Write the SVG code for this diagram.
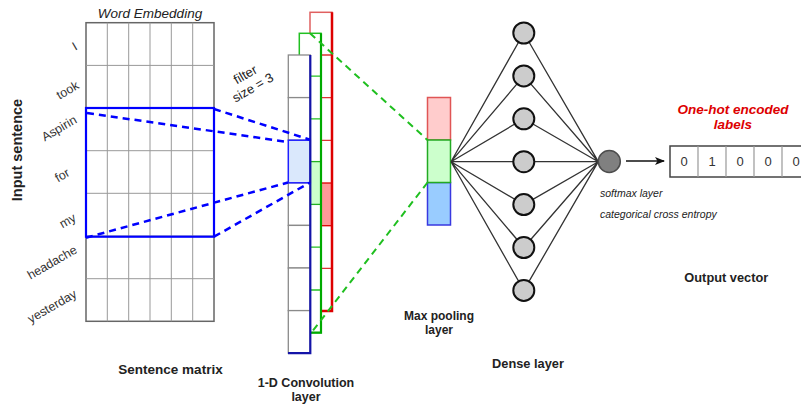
<svg xmlns="http://www.w3.org/2000/svg" width="801" height="406" viewBox="0 0 801 406">
<defs>
<style>
text{font-family:"Liberation Sans",Arial,sans-serif;fill:#222}
.word{font-size:12.5px;fill:#333;text-anchor:middle}
.lbl{font-size:12.5px;font-weight:bold;text-anchor:middle}
.gi{stroke:#999;stroke-width:1;fill:none}
.bd{stroke:#0000ff;stroke-width:2.5;stroke-dasharray:7 5;fill:none}
.gd{stroke:#1fbf1f;stroke-width:2;stroke-dasharray:7 5;fill:none}
.dl{stroke:#333;stroke-width:1.3;fill:none}
.nd{fill:#cccccc;stroke:#111;stroke-width:2}
.gcell{fill:#fff;stroke:#8a8a8a;stroke-width:1.3}
.ov{font-size:13px;fill:#333;text-anchor:middle}
</style>
<marker id="arr" markerWidth="10" markerHeight="8" refX="9" refY="4" orient="auto" markerUnits="userSpaceOnUse">
<path d="M0,0 L10,4 L0,8 L2.5,4 Z" fill="#111"/>
</marker>
</defs>
<rect width="801" height="406" fill="#fff"/>

<g id="sentence-matrix">
<rect x="86" y="22.7" width="128" height="298.6" fill="#fff" stroke="#666" stroke-width="1.5"/>
<path class="gi" d="M107.3,22.7V321.3M128.7,22.7V321.3M150,22.7V321.3M171.3,22.7V321.3M192.7,22.7V321.3M86,65.4H214M86,108H214M86,150.7H214M86,193.3H214M86,236H214M86,278.7H214"/>
<rect x="86" y="108" width="128" height="128.7" fill="none" stroke="#0000ff" stroke-width="2.2"/>
<text x="150" y="18" font-size="13.5" font-style="italic" text-anchor="middle" fill="#333">Word Embedding</text>
<text x="170.5" y="374" class="lbl" font-size="13.5" style="font-size:13.5px">Sentence matrix</text>
<text transform="translate(22 150) rotate(-90)" font-size="14.5" font-weight="bold" text-anchor="middle">Input sentence</text>
<text class="word" x="74.5" y="50.5" transform="rotate(-30 74.5 46)">I</text>
<text class="word" x="67.5" y="94.5" transform="rotate(-30 67.5 90)">took</text>
<text class="word" x="59" y="132.5" transform="rotate(-30 59 128)">Aspirin</text>
<text class="word" x="62" y="179.5" transform="rotate(-30 62 175)">for</text>
<text class="word" x="67.5" y="225" transform="rotate(-30 67.5 220.5)">my</text>
<text class="word" x="52" y="266.5" transform="rotate(-30 52 262)">headache</text>
<text class="word" x="52" y="310.5" transform="rotate(-30 52 306)">yesterday</text>
</g>

<g id="filter-label" transform="rotate(-30 249 81)">
<text x="249" y="78" font-size="13" text-anchor="middle" fill="#333">filter</text>
<text x="249" y="93" font-size="13" text-anchor="middle" fill="#333">size = 3</text>
</g>

<g id="conv-layer">
<g id="conv-red">
<rect x="310" y="12.3" width="22" height="298.7" fill="#fff" stroke="#e06060" stroke-width="1.5"/>
<rect x="310" y="183" width="22" height="42.7" fill="#ff9999" stroke="#dd0000" stroke-width="1.3"/>
<path d="M310,55H332M310,97.7H332M310,140.3H332M310,268.3H332" stroke="#dd3333" stroke-width="1.3"/>
<path d="M332,12.3V311H310" stroke="#dd0000" stroke-width="2.5" fill="none"/>
</g>
<g id="conv-green">
<rect x="299.3" y="33.3" width="21.7" height="299.4" fill="#fff" stroke="#22c022" stroke-width="1.5"/>
<rect x="299.3" y="161.6" width="21.7" height="42.8" fill="#ccffcc" stroke="#22b022" stroke-width="1.3"/>
<path d="M299.3,76.1H321M299.3,118.9H321M299.3,247.2H321M299.3,290H321" stroke="#22c022" stroke-width="1.3"/>
<path d="M321,33.3V332.7H300" stroke="#00aa00" stroke-width="2.2" fill="none"/>
</g>
<g id="conv-blue">
<rect class="gcell" x="288.3" y="55" width="22" height="42.6"/>
<rect class="gcell" x="288.3" y="97.6" width="22" height="42.6"/>
<rect class="gcell" x="288.3" y="182.8" width="22" height="42.6"/>
<rect class="gcell" x="288.3" y="225.4" width="22" height="42.6"/>
<rect class="gcell" x="288.3" y="268" width="22" height="42.6"/>
<rect class="gcell" x="288.3" y="310.6" width="22" height="42.6"/>
<rect x="288.3" y="140.2" width="22" height="42.6" fill="#dae8fc" stroke="#1f1fff" stroke-width="1.5"/>
<path d="M310.3,55V353.2H288" stroke="#1414a8" stroke-width="2.2" fill="none"/>
</g>
<text x="306" y="387" class="lbl">1-D Convolution</text>
<text x="306" y="401" class="lbl">layer</text>
</g>

<g id="max-pooling">
<rect x="427.5" y="97.5" width="23" height="42.5" fill="#ffcccc" stroke="#e05555" stroke-width="1.5"/>
<rect x="427.5" y="182.5" width="23" height="42.5" fill="#99ccff" stroke="#3838e0" stroke-width="1.5"/>
<rect x="427.5" y="140" width="23" height="42.5" fill="#ccffcc" stroke="#22aa22" stroke-width="1.5"/>
<text x="439" y="319.5" class="lbl" style="font-size:12px">Max pooling</text>
<text x="439" y="333.5" class="lbl" style="font-size:12px">layer</text>
</g>

<g id="connectors">
<line class="bd" x1="214" y1="109" x2="310" y2="139.7"/>
<line class="bd" x1="87" y1="113" x2="288" y2="142"/>
<line class="bd" x1="86" y1="237.7" x2="288" y2="182.5"/>
<line class="bd" x1="214" y1="236.7" x2="310" y2="182.5"/>
<line class="gd" x1="310" y1="33.3" x2="427.5" y2="140"/>
<line class="gd" x1="427.5" y1="182.5" x2="311.5" y2="332.5"/>
<path class="dl" d="M451,161.7L523.8,33M451,161.7L523.8,75.9M451,161.7L523.8,118.8M451,161.7L523.8,161.7M451,161.7L523.8,204.6M451,161.7L523.8,247.5M451,161.7L523.8,290.4"/>
<path class="dl" d="M598.3,161.7L523.8,33M598.3,161.7L523.8,75.9M598.3,161.7L523.8,118.8M598.3,161.7L523.8,161.7M598.3,161.7L523.8,204.6M598.3,161.7L523.8,247.5M598.3,161.7L523.8,290.4"/>
<line x1="626" y1="161" x2="664" y2="161" stroke="#111" stroke-width="1.5" marker-end="url(#arr)"/>
</g>

<g id="dense-layer">
<circle class="nd" cx="523.8" cy="33" r="10.5"/>
<circle class="nd" cx="523.8" cy="75.9" r="10.5"/>
<circle class="nd" cx="523.8" cy="118.8" r="10.5"/>
<circle class="nd" cx="523.8" cy="161.7" r="10.5"/>
<circle class="nd" cx="523.8" cy="204.6" r="10.5"/>
<circle class="nd" cx="523.8" cy="247.5" r="10.5"/>
<circle class="nd" cx="523.8" cy="290.4" r="10.5"/>
<text x="528" y="367.5" class="lbl" style="font-size:12.8px">Dense layer</text>
</g>

<g id="softmax">
<circle cx="609.3" cy="161.5" r="11" fill="#808080" stroke="#4d4d4d" stroke-width="1.5"/>
<text x="600" y="196.5" font-size="10.5" font-style="italic" fill="#333">softmax layer</text>
<text x="600" y="217.5" font-size="10.5" font-style="italic" fill="#333">categorical cross entropy</text>
</g>

<g id="output-vector">
<text x="733" y="113.5" font-size="13.5" font-weight="bold" font-style="italic" text-anchor="middle" style="fill:#dd0000">One-hot encoded</text>
<text x="733" y="128.5" font-size="13.5" font-weight="bold" font-style="italic" text-anchor="middle" style="fill:#dd0000">labels</text>
<rect x="670" y="146" width="140" height="31" fill="#fff" stroke="#444" stroke-width="1.5"/>
<path d="M698,146V177M726,146V177M754,146V177M782,146V177" stroke="#999" stroke-width="1.2"/>
<text class="ov" x="684" y="166">0</text>
<text class="ov" x="712" y="166">1</text>
<text class="ov" x="740" y="166">0</text>
<text class="ov" x="768" y="166">0</text>
<text class="ov" x="796" y="166">0</text>
<text x="726.3" y="282" class="lbl" style="font-size:12.8px">Output vector</text>
</g>
</svg>
